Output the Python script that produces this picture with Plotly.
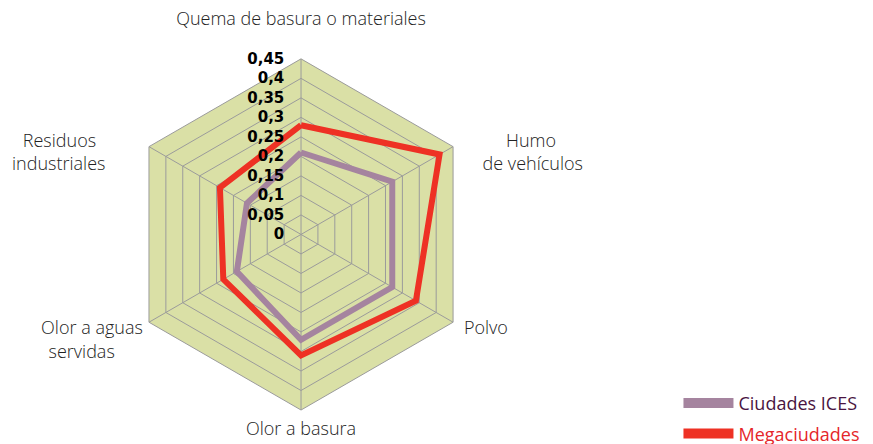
import plotly.graph_objects as go

NB = "\u00a0"

categorias = [
    "Quema de basura o materiales<br> ",
    "<br><br><br>" + NB * 10 + "Humo<br>" + NB * 5 + "de vehículos",
    NB + "Polvo<br> ",
    "Olor a basura",
    "Olor a aguas<br>servidas" + NB * 6,
    "<br><br><br>Residuos" + NB * 10 + "<br>industriales" + NB * 8,
]
ciudades_ices = [0.21, 0.27, 0.27, 0.27, 0.19, 0.16]
megaciudades = [0.28, 0.41, 0.34, 0.31, 0.23, 0.24]
ticks_radiales = [0, 0.05, 0.1, 0.15, 0.2, 0.25, 0.3, 0.35, 0.4, 0.45]

series = [
    ("Ciudades ICES", ciudades_ices, "#a5849f", "#4a1441"),
    ("Megaciudades", megaciudades, "#ee3124", "#e5262a"),
]

fig = go.Figure()

for nombre, valores, color, texto in series:
    fig.add_trace(go.Scatterpolar(
        r=valores + valores[:1],
        theta=categorias + categorias[:1],
        mode="lines",
        line=dict(color=color, width=6),
        showlegend=False,
        hoverinfo="r+name",
        name=nombre,
    ))

# entradas de leyenda con linea mas gruesa
for nombre, valores, color, texto in series:
    fig.add_trace(go.Scatterpolar(
        r=[None],
        theta=[categorias[0]],
        mode="lines",
        line=dict(color=color, width=12),
        legendgroup=nombre,
        name=f"<span style='color:{texto}'>{nombre}</span>",
    ))

fig.update_layout(
    width=873,
    height=444,
    margin=dict(l=0, r=0, t=0, b=0),
    paper_bgcolor="white",
    separators=",.",
    polar=dict(
        domain=dict(x=[0.1260, 0.5453], y=[0.0563, 0.8806]),
        bgcolor="#dae0a6",
        gridshape="linear",
        angularaxis=dict(
            direction="clockwise",
            rotation=90,
            showline=True,
            linecolor="#9b9b9b",
            linewidth=1,
            gridcolor="#9b9b9b",
            ticks="outside",
            ticklen=3,
            tickcolor="rgba(0,0,0,0)",
            tickfont=dict(family="Open Sans", size=18, color="#222222", weight=300),
        ),
        radialaxis=dict(
            range=[0, 0.45],
            tickvals=ticks_radiales,
            angle=90,
            tickangle=90,
            side="counterclockwise",
            showline=False,
            gridcolor="#9b9b9b",
            ticks="outside",
            ticklen=11,
            tickcolor="rgba(0,0,0,0)",
            tickfont=dict(family="DejaVu Sans", size=15, color="black", weight="bold"),
        ),
    ),
    legend=dict(
        x=0.768,
        y=-0.042,
        xanchor="left",
        yanchor="bottom",
        font=dict(family="Open Sans", size=18),
        itemwidth=50,
        tracegroupgap=4,
    ),
)

fig.write_html("out.html")
